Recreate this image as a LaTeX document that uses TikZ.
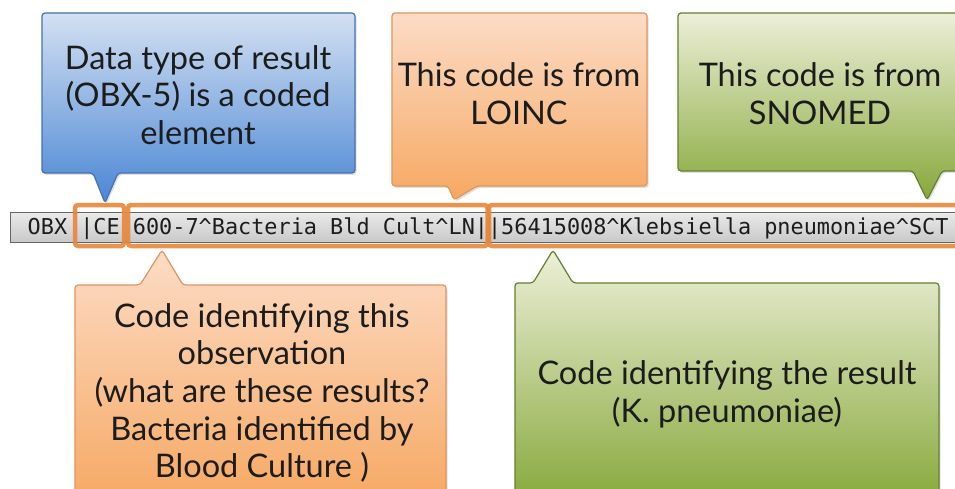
\documentclass[tikz,border=0pt]{standalone}
\usepackage{fontspec}
\setmainfont{Lato}
\newfontfamily\codefont{DejaVu Sans Mono}
\usetikzlibrary{shadows}

\definecolor{bluetop}{HTML}{D3E0F2}
\definecolor{bluebot}{HTML}{4A86D4}
\definecolor{blueline}{HTML}{4272B0}
\definecolor{orangetop}{HTML}{FCDCC6}
\definecolor{orangebot}{HTML}{F6A862}
\definecolor{orangeline}{HTML}{E0955C}
\definecolor{greentop}{HTML}{EDEFD8}
\definecolor{greenbot}{HTML}{86A83A}
\definecolor{greenline}{HTML}{62802F}
\definecolor{hilite}{HTML}{E8873A}
\definecolor{bartop}{HTML}{EAEAEA}
\definecolor{barbot}{HTML}{C9C9C9}
\definecolor{inktext}{HTML}{1C1C1C}

\begin{document}
\begin{tikzpicture}[x=1pt,y=-1pt,
  callout/.style={rounded corners=3pt, line width=1.2pt,
    drop shadow={opacity=0.25, shadow xshift=1.5pt, shadow yshift=-2pt}},
  bluecall/.style={callout, draw=blueline, top color=bluetop, bottom color=bluebot},
  orangecall/.style={callout, draw=orangeline, top color=orangetop, bottom color=orangebot},
  greencall/.style={callout, draw=greenline, top color=greentop, bottom color=greenbot},
  note/.style={align=center, text=inktext, inner sep=0pt,
    font=\fontsize{32.5}{37.7}\selectfont},
  hl/.style={draw=hilite, line width=4.5pt, rounded corners=3pt, opacity=0.9},
  codebar/.style={draw=gray!80!black, line width=0.8pt, top color=bartop, bottom color=barbot}
]
\useasboundingbox (0,0) rectangle (955,489);
\clip (0,0) rectangle (955,489);

% HL7 segment bar
\path[codebar] (10,212) rectangle (975,242);
\node[anchor=base west, inner sep=0pt, text=inktext,
      font=\codefont\fontsize{21.85}{24}\selectfont] (code) at (27.5,234)
  {OBX |CE 600-7\textasciicircum Bacteria Bld Cult\textasciicircum LN||56415008\textasciicircum Klebsiella pneumoniae\textasciicircum SCT};

% highlighted fields
\draw[hl] (75,205) rectangle (124,246);
\draw[hl] (128,205) rectangle (487.5,246);
\draw[hl] (489,205) rectangle (975,246);

% callouts above the segment
\path[bluecall] (42,13) -- (355,13) -- (355,173) -- (118,173) -- (105,203)
  -- (93,173) -- (42,173) -- cycle;
\path[orangecall] (392,13) -- (647,13) -- (647,186) -- (477,186) -- (454,200)
  -- (448,186) -- (392,186) -- cycle;
\path[greencall] (678,13) -- (975,13) -- (975,171) -- (942,171) -- (927,200)
  -- (913,171) -- (678,171) -- cycle;

% callouts below the segment
\path[orangecall] (75,285) -- (140,285) -- (162,250) -- (183,285) -- (446,285)
  -- (446,505) -- (75,505) -- cycle;
\path[greencall] (515,283) -- (533,283) -- (553,250) -- (573,283) -- (939,283)
  -- (939,505) -- (515,505) -- cycle;

% callout texts
\node[note] (datatype) at (198,95) {Data type of result\\(OBX-5) is a coded\\element};
\node[note] (loinc) at (519,94) {This code is from\\LOINC};
\node[note] (snomed) at (820,94) {This code is from\\SNOMED};
\node[note] (obsid) at (262,393) {Code identifying this\\observation\\(what are these results?\\Bacteria identified by\\Blood Culture )};
\node[note] (resid) at (727,394) {Code identifying the result\\(K. pneumoniae)};
\end{tikzpicture}
\end{document}
